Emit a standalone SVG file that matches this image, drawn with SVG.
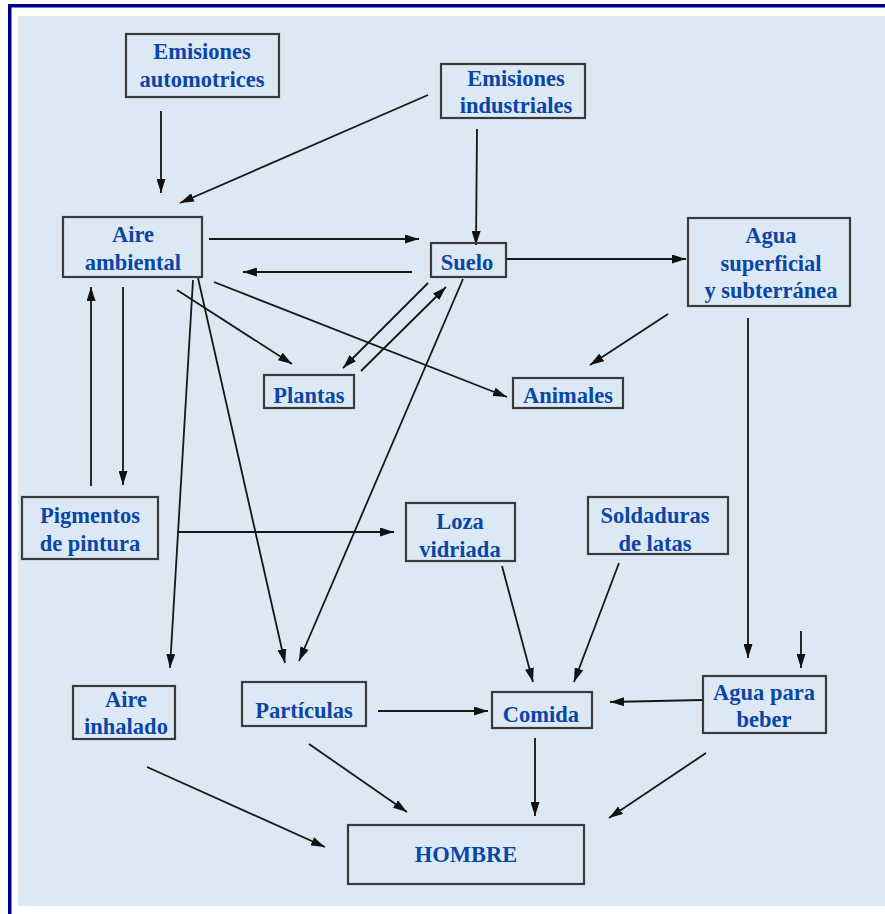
<svg xmlns="http://www.w3.org/2000/svg" width="885" height="914" viewBox="0 0 885 914">
<defs>
<marker id="ah" viewBox="0 0 14 9" refX="14" refY="4.5" markerWidth="14" markerHeight="9" markerUnits="userSpaceOnUse" orient="auto">
<path d="M0,0 L14,4.5 L0,9 Z" fill="#111"/>
</marker>
</defs>
<style>
.box{fill:none;stroke:#3a3a3a;stroke-width:2.2}
.t{font-family:"Liberation Serif","Times New Roman",serif;font-weight:bold;font-size:22.5px;fill:#0a46a6;text-anchor:middle}
.c line{stroke:#161616;stroke-width:1.8;marker-end:url(#ah)}
</style>
<rect x="0" y="0" width="885" height="914" fill="#ffffff"/>
<rect x="18" y="16" width="867" height="890" fill="#dce9f5"/>
<rect x="8" y="4" width="877" height="3.5" fill="#00008b"/>
<rect x="8" y="4" width="3.5" height="910" fill="#00008b"/>

<g class="c" id="connectors">
<line x1="161" y1="111" x2="161" y2="193"/>
<line x1="428" y1="95" x2="180" y2="203"/>
<line x1="209" y1="239" x2="419" y2="239"/>
<line x1="412" y1="272" x2="243" y2="272"/>
<line x1="477" y1="129" x2="476" y2="245"/>
<line x1="506" y1="259" x2="686" y2="259"/>
<line x1="668" y1="314" x2="590" y2="365"/>
<line x1="177" y1="290" x2="292" y2="364"/>
<line x1="214" y1="282" x2="507" y2="397"/>
<line x1="428" y1="283" x2="343" y2="368"/>
<line x1="361" y1="371" x2="446" y2="287"/>
<line x1="463" y1="279" x2="299" y2="661"/>
<line x1="198" y1="278" x2="285" y2="663"/>
<line x1="193" y1="280" x2="170" y2="668"/>
<line x1="123" y1="287" x2="123" y2="485"/>
<line x1="91" y1="486" x2="91" y2="287"/>
<line x1="177" y1="532" x2="394" y2="532"/>
<line x1="502" y1="566" x2="533" y2="682"/>
<line x1="619" y1="563" x2="574" y2="682"/>
<line x1="748" y1="318" x2="748" y2="658"/>
<line x1="801" y1="631" x2="801" y2="668"/>
<line x1="702" y1="700" x2="610" y2="702"/>
<line x1="378" y1="711" x2="488" y2="711"/>
<line x1="147" y1="767" x2="325" y2="847"/>
<line x1="309" y1="744" x2="407" y2="812"/>
<line x1="535" y1="738" x2="535" y2="816"/>
<line x1="706" y1="753" x2="609" y2="818"/>
</g>

<g id="emisiones-automotrices">
<rect class="box" x="126" y="34" width="153" height="63"/>
<text class="t" x="202" y="59">Emisiones</text>
<text class="t" x="202" y="87">automotrices</text>
</g>
<g id="emisiones-industriales">
<rect class="box" x="441" y="64" width="144" height="54"/>
<text class="t" x="516" y="86">Emisiones</text>
<text class="t" x="516" y="113">industriales</text>
</g>
<g id="aire-ambiental">
<rect class="box" x="63" y="217" width="139" height="60"/>
<text class="t" x="133" y="242">Aire</text>
<text class="t" x="133" y="270">ambiental</text>
</g>
<g id="suelo">
<rect class="box" x="431" y="243" width="75" height="34"/>
<text class="t" x="467" y="270">Suelo</text>
</g>
<g id="agua-superficial">
<rect class="box" x="688" y="218" width="162" height="88"/>
<text class="t" x="771" y="243">Agua</text>
<text class="t" x="771" y="271">superficial</text>
<text class="t" x="771" y="298">y subterránea</text>
</g>
<g id="plantas">
<rect class="box" x="264" y="375" width="90" height="33"/>
<text class="t" x="309" y="403">Plantas</text>
</g>
<g id="animales">
<rect class="box" x="513" y="378" width="110" height="30"/>
<text class="t" x="568" y="403">Animales</text>
</g>
<g id="pigmentos">
<rect class="box" x="22" y="497" width="136" height="62"/>
<text class="t" x="90" y="523">Pigmentos</text>
<text class="t" x="90" y="551">de pintura</text>
</g>
<g id="loza">
<rect class="box" x="406" y="503" width="109" height="58"/>
<text class="t" x="460" y="529">Loza</text>
<text class="t" x="460" y="557">vidriada</text>
</g>
<g id="soldaduras">
<rect class="box" x="588" y="497" width="140" height="57"/>
<text class="t" x="655" y="523">Soldaduras</text>
<text class="t" x="655" y="551">de latas</text>
</g>
<g id="comida">
<rect class="box" x="492" y="692" width="100" height="36"/>
<text class="t" x="541" y="722">Comida</text>
</g>
<g id="agua-beber">
<rect class="box" x="703" y="676" width="123" height="57"/>
<text class="t" x="764" y="700">Agua para</text>
<text class="t" x="764" y="727">beber</text>
</g>
<g id="aire-inhalado">
<rect class="box" x="73" y="686" width="102" height="53"/>
<text class="t" x="126" y="707">Aire</text>
<text class="t" x="126" y="734">inhalado</text>
</g>
<g id="particulas">
<rect class="box" x="242" y="682" width="124" height="44"/>
<text class="t" x="304" y="718">Partículas</text>
</g>
<g id="hombre">
<rect class="box" x="348" y="825" width="236" height="59"/>
<text class="t" x="466" y="862">HOMBRE</text>
</g>
</svg>
